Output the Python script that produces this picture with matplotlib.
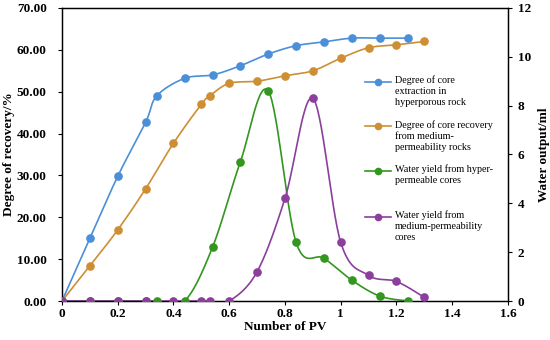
import numpy as np
import matplotlib.pyplot as plt
from matplotlib.ticker import FormatStrFormatter, FuncFormatter

# 数据
pv_hyper = [0, 0.1, 0.2, 0.3, 0.34, 0.44, 0.54, 0.64, 0.74, 0.84, 0.94, 1.04, 1.14, 1.24]
rec_hyper = [0, 15.0, 29.8, 42.7, 49.0, 53.2, 54.0, 56.2, 59.0, 61.0, 61.9, 62.8, 62.8, 62.8]
water_hyper = [0, 0, 0, 0, 0, 0, 2.2, 5.7, 8.6, 2.4, 1.75, 0.85, 0.2, 0]

pv_medium = [0, 0.1, 0.2, 0.3, 0.4, 0.5, 0.53, 0.6, 0.7, 0.8, 0.9, 1.0, 1.1, 1.2, 1.3]
rec_medium = [0, 8.4, 17.0, 26.8, 37.7, 47.0, 49.0, 52.0, 52.5, 53.8, 55.0, 58.0, 60.5, 61.2, 62.0]
water_medium = [0, 0, 0, 0, 0, 0, 0, 0, 1.2, 4.2, 8.3, 2.4, 1.05, 0.8, 0.15]

labels = [
    "Degree of core\nextraction in\nhyperporous rock",
    "Degree of core recovery\nfrom medium-\npermeability rocks",
    "Water yield from hyper-\npermeable cores",
    "Water yield from\nmedium-permeability\ncores",
]
colors = ["#4A8FD8", "#CE8E34", "#32961F", "#8C3E9D"]

plt.rcParams['font.family'] = ['Liberation Serif', 'DejaVu Serif']


def smooth(x, y, n=30):
    """类似 Excel 平滑线的贝塞尔插值（仅用于画线）"""
    x = np.asarray(x, float)
    y = np.asarray(y, float)
    xs, ys = [x[0]], [y[0]]
    t = np.linspace(0, 1, n)[1:]
    for i in range(len(x) - 1):
        x0, y0 = (x[i - 1], y[i - 1]) if i > 0 else (x[i], y[i])
        x3, y3 = (x[i + 2], y[i + 2]) if i + 2 < len(x) else (x[i + 1], y[i + 1])
        c1x = x[i] + (x[i + 1] - x0) / 6
        c1y = y[i] + (y[i + 1] - y0) / 6
        c2x = x[i + 1] - (x3 - x[i]) / 6
        c2y = y[i + 1] - (y3 - y[i]) / 6
        bx = (1 - t) ** 3 * x[i] + 3 * (1 - t) ** 2 * t * c1x + 3 * (1 - t) * t ** 2 * c2x + t ** 3 * x[i + 1]
        by = (1 - t) ** 3 * y[i] + 3 * (1 - t) ** 2 * t * c1y + 3 * (1 - t) * t ** 2 * c2y + t ** 3 * y[i + 1]
        xs.extend(bx)
        ys.extend(by)
    return np.array(xs), np.array(ys)


fig = plt.figure(figsize=(5.5, 3.4), dpi=100)
ax = fig.add_axes([0.1127, 0.1147, 0.8109, 0.8618])
ax2 = ax.twinx()

series = [
    (ax, pv_hyper, rec_hyper),
    (ax, pv_medium, rec_medium),
    (ax2, pv_hyper, water_hyper),
    (ax2, pv_medium, water_medium),
]
for (a, x, y), c in zip(series, colors):
    sx, sy = smooth(x, y)
    a.plot(sx, sy, color=c, lw=1.2, zorder=2)
    a.plot(x, y, "o", color=c, ms=5.2, zorder=3)

ax.set_xlim(0, 1.6)
ax.set_ylim(0, 70)
ax2.set_ylim(0, 12)
ax.set_xticks(np.arange(0, 1.61, 0.2))
ax.set_yticks(np.arange(0, 71, 10))
ax2.set_yticks(np.arange(0, 13, 2))
ax.yaxis.set_major_formatter(FormatStrFormatter("%.2f"))
ax.xaxis.set_major_formatter(FuncFormatter(lambda v, p: f"{v:g}"))

for a in (ax, ax2):
    a.tick_params(direction="out", length=3, width=0.8, labelsize=9.5, pad=2)
    for lab in a.get_xticklabels() + a.get_yticklabels():
        lab.set_fontweight("bold")
    for s in a.spines.values():
        s.set_linewidth(0.9)
ax.tick_params(axis="y", pad=8)
ax2.tick_params(axis="y", pad=4)

ax.set_xlabel("Number of PV", fontsize=9.5, fontweight="bold", labelpad=1)
ax.set_ylabel("Degree of recovery/%", fontsize=9.5, fontweight="bold", labelpad=1)
ax2.set_ylabel("Water output/ml", fontsize=9.5, fontweight="bold", labelpad=5)

# 图例（手动绘制，标记对齐第一行文字）
leg_x0, leg_x1, leg_tx = 0.68, 0.738, 0.746
leg_y = [0.749, 0.596, 0.445, 0.288]
for yy, c, lab in zip(leg_y, colors, labels):
    ax2.plot([leg_x0, leg_x1], [yy, yy], color=c, lw=1.2, transform=ax2.transAxes, clip_on=False)
    ax2.plot([(leg_x0 + leg_x1) / 2], [yy], "o", color=c, ms=4.5, transform=ax2.transAxes, clip_on=False)
    ax2.text(leg_tx, yy + 0.02, lab, transform=ax2.transAxes, fontsize=7.3, va="top", ha="left",
             linespacing=1.25)

fig.savefig("out.png", dpi=100)
